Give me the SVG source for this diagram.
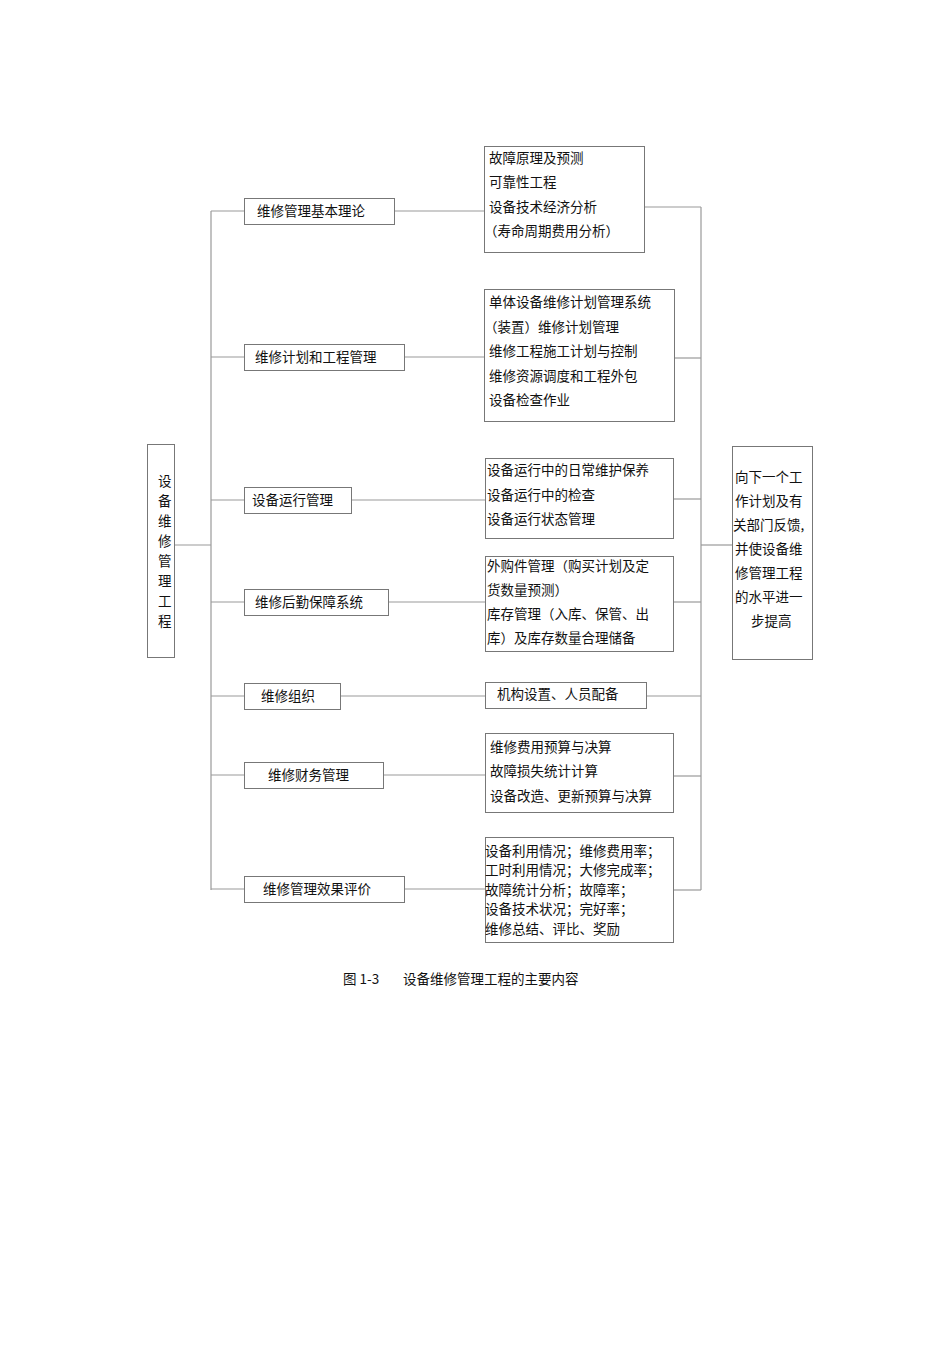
<svg xmlns="http://www.w3.org/2000/svg" width="950" height="1345" viewBox="0 0 950 1345">
<style>
text{font-family:"Noto Sans CJK SC","Liberation Serif",serif;font-size:13.5px;fill:#111}
.b{fill:#fff;stroke:#777;stroke-width:1}
.s{fill:#ccc}
.c line{stroke:#999;stroke-width:1.2}
</style>
<rect width="950" height="1345" fill="#fff"/>
<g class="c">
<line x1="211" y1="211" x2="211" y2="890"/>
<line x1="174" y1="545" x2="211" y2="545"/>
<line x1="211" y1="211" x2="244" y2="211"/><line x1="394" y1="211" x2="484" y2="211"/>
<line x1="211" y1="357" x2="244" y2="357"/><line x1="404" y1="357" x2="484" y2="357"/>
<line x1="211" y1="500" x2="244" y2="500"/><line x1="351" y1="500" x2="485" y2="500"/>
<line x1="211" y1="602" x2="244" y2="602"/><line x1="388" y1="602" x2="485" y2="602"/>
<line x1="211" y1="696" x2="244" y2="696"/><line x1="340" y1="696" x2="485" y2="696"/>
<line x1="211" y1="775" x2="244" y2="775"/><line x1="383" y1="775" x2="485" y2="775"/>
<line x1="211" y1="889" x2="244" y2="889"/><line x1="404" y1="889" x2="485" y2="889"/>
<line x1="701" y1="207" x2="701" y2="890"/>
<line x1="644" y1="207" x2="701" y2="207"/>
<line x1="674" y1="358" x2="701" y2="358"/>
<line x1="673" y1="499" x2="701" y2="499"/>
<line x1="673" y1="602" x2="701" y2="602"/>
<line x1="646" y1="696" x2="701" y2="696"/>
<line x1="673" y1="776" x2="701" y2="776"/>
<line x1="673" y1="890" x2="701" y2="890"/>
<line x1="701" y1="545" x2="732" y2="545"/>
</g>
<g id="root"><rect class="b" x="147.5" y="444.5" width="27" height="213"/>
<text x="158" y="486">设</text><text x="158" y="506">备</text><text x="158" y="526">维</text><text x="158" y="546">修</text><text x="158" y="566">管</text><text x="158" y="586">理</text><text x="158" y="606">工</text><text x="158" y="626">程</text></g>
<g id="m1"><rect class="b" x="244.5" y="198.5" width="150" height="26"/><text x="257" y="216">维修管理基本理论</text></g>
<g id="m2"><rect class="b" x="244.5" y="344.5" width="160" height="26"/><text x="255" y="362">维修计划和工程管理</text></g>
<g id="m3"><rect class="b" x="244.5" y="487.5" width="107" height="26"/><text x="252" y="505">设备运行管理</text></g>
<g id="m4"><rect class="b" x="244.5" y="589.5" width="144" height="26"/><text x="255" y="607">维修后勤保障系统</text></g>
<g id="m5"><rect class="b" x="244.5" y="683.5" width="96" height="26"/><text x="261" y="701">维修组织</text></g>
<g id="m6"><rect class="b" x="244.5" y="762.5" width="139" height="26"/><text x="268" y="780">维修财务管理</text></g>
<g id="m7"><rect class="b" x="244.5" y="876.5" width="160" height="26"/><text x="263" y="894">维修管理效果评价</text></g>
<g id="r1"><rect class="b" x="484.5" y="146.5" width="160" height="106"/>
<text x="489" y="163">故障原理及预测</text><text x="489" y="187">可靠性工程</text><text x="489" y="212">设备技术经济分析</text><text x="484" y="236">（寿命周期费用分析）</text></g>
<g id="r2"><rect class="b" x="484.5" y="289.5" width="190" height="132"/>
<text x="489" y="307">单体设备维修计划管理系统</text><text x="484" y="332">（装置）维修计划管理</text><text x="489" y="356">维修工程施工计划与控制</text><text x="489" y="381">维修资源调度和工程外包</text><text x="489" y="405">设备检查作业</text></g>
<g id="r3"><rect class="b" x="485.5" y="458.5" width="188" height="80"/>
<text x="487" y="475">设备运行中的日常维护保养</text><text x="487" y="500">设备运行中的检查</text><text x="487" y="524">设备运行状态管理</text></g>
<g id="r4"><rect class="b" x="485.5" y="556.5" width="188" height="95"/>
<text x="487" y="571">外购件管理（购买计划及定</text><text x="487" y="595">货数量预测）</text><text x="487" y="619">库存管理（入库、保管、出</text><text x="487" y="643">库）及库存数量合理储备</text></g>
<g id="r5"><rect class="b" x="485.5" y="682.5" width="161" height="26"/><text x="497" y="699">机构设置、人员配备</text></g>
<g id="r6"><rect class="b" x="485.5" y="733.5" width="188" height="79"/>
<text x="490" y="752">维修费用预算与决算</text><text x="490" y="776">故障损失统计计算</text><text x="490" y="801">设备改造、更新预算与决算</text></g>
<g id="r7"><rect class="b" x="485.5" y="837.5" width="188" height="105"/>
<text x="485" y="856">设备利用情况；维修费用率；</text><text x="485" y="875">工时利用情况；大修完成率；</text><text x="485" y="895">故障统计分析；故障率；</text><text x="485" y="914">设备技术状况；完好率；</text><text x="485" y="934">维修总结、评比、奖励</text></g>
<g id="fb"><rect class="b" x="732.5" y="446.5" width="80" height="213"/>
<text x="735" y="482">向下一个工</text><text x="735" y="506">作计划及有</text><text x="733" y="530">关部门反馈,</text><text x="735" y="554">并使设备维</text><text x="735" y="578">修管理工程</text><text x="735" y="602">的水平进一</text><text x="751" y="626">步提高</text></g>
<text x="343" y="984">图 1-3</text><text x="403" y="984">设备维修管理工程的主要内容</text>
</svg>
